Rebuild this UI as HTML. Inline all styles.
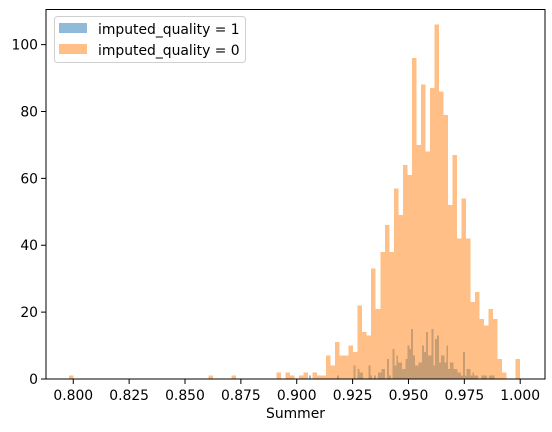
<!DOCTYPE html>
<html><head><meta charset="utf-8"><style>
html,body{margin:0;padding:0;background:#fff;}
svg{display:block;font-family:"DejaVu Sans","Liberation Sans",sans-serif;}
</style></head><body>
<svg id="chart" width="552" height="432" viewBox="0 0 552 432" xmlns="http://www.w3.org/2000/svg">
<g id="bars" shape-rendering="crispEdges"></g>
<g id="axes"></g>
<g>
<rect x="54.5" y="16.5" width="191" height="46" rx="3" fill="#fff" fill-opacity="0.8" stroke="#d0d0d0"/>
<rect x="59" y="23" width="28" height="10" fill="#1f77b4" fill-opacity="0.5"/>
<text x="98" y="34" font-size="13.9" fill="#000">imputed_quality = 1</text>
<rect x="59" y="44" width="28" height="10" fill="#ff7f0e" fill-opacity="0.5"/>
<text x="98" y="55" font-size="13.9" fill="#000">imputed_quality = 0</text>
</g>
<text x="295.5" y="418" font-size="13.9" text-anchor="middle">Summer</text>
</svg>
<script>
const orangeLo = 0.798, orangeHi = 1.0;
const orangeCounts = [1,0,0,0,0,0,0,0,0,0, 0,0,0,0,0,0,0,0,0,0, 0,0,0,0,0,0,0,0,0,0, 0,1,0,0,0,0,1,0,0,0, 0,0,0,0,0,0,2,0,2,1, 0,1,2,0,2,1,1,7,4,11, 7,7,10,8,22,14,13,33,21,38, 46,38,57,49,64,61,96,70,88,68, 87,106,86,79,52,67,42,54,42,23, 26,18,16,21,18,6,2,0,0,6];
const blueLo = 0.9056, blueHi = 0.9885;
const blueCounts = [1,0,0,0,0,0,0,0,0,0, 0,0,0,0,0,1,0,0,0,0, 0,0,0,0,4,0,3,2,2,0, 0,0,4,1,0,1,0,2,2,3, 3,0,6,1,0,9,4,7,5,5, 3,3,6,10,9,15,7,4,4,5, 5,10,8,14,7,7,15,4,12,13, 5,7,7,5,10,3,5,5,3,3, 2,2,1,8,1,3,3,1,2,1, 1,0,0,1,1,1,0,1,1,1];
const xTicks = [0.800,0.825,0.850,0.875,0.900,0.925,0.950,0.975,1.000];
const xTickLabels = ["0.800","0.825","0.850","0.875","0.900","0.925","0.950","0.975","1.000"];
const yTicks = [0,20,40,60,80,100];
const yTickLabels = ["0","20","40","60","80","100"];

const L=46, R=545, T=9.5, B=379;
const xMin=0.7878, xMax=1.0111, yMin=0, yMax=110.5;
const sx = v => L + (v-xMin)/(xMax-xMin)*(R-L);
const sy = v => B - (v-yMin)/(yMax-yMin)*(B-T);
const NS="http://www.w3.org/2000/svg";
const bars=document.getElementById('bars'), axes=document.getElementById('axes');
function drawHist(counts, lo, hi, color, name){
  const w=(hi-lo)/counts.length;
  counts.forEach((c,i)=>{
    if(c<=0) return;
    const r=document.createElementNS(NS,'rect');
    
    
    const x0=sx(lo+i*w), x1=sx(lo+(i+1)*w);
    r.setAttribute('x',x0); r.setAttribute('width',x1-x0);
    r.setAttribute('y',sy(c)); r.setAttribute('height',sy(0)-sy(c));
    r.setAttribute('fill',color); r.setAttribute('fill-opacity','0.5');
    bars.appendChild(r);
  });
}
drawHist(blueCounts, blueLo, blueHi, '#1f77b4', 'blue');
drawHist(orangeCounts, orangeLo, orangeHi, '#ff7f0e', 'orange');

const frame=document.createElementNS(NS,'rect');


frame.setAttribute('x',L); frame.setAttribute('y',T);
frame.setAttribute('width',R-L); frame.setAttribute('height',B-T);
frame.setAttribute('fill','none'); frame.setAttribute('stroke','#000'); frame.setAttribute('stroke-width','1');
axes.appendChild(frame);

xTicks.forEach((v,i)=>{
  const x=sx(v);
  const t=document.createElementNS(NS,'line');
  
  
  t.setAttribute('x1',x); t.setAttribute('x2',x); t.setAttribute('y1',B); t.setAttribute('y2',B+5);
  t.setAttribute('stroke','#000');
  axes.appendChild(t);
  const tx=document.createElementNS(NS,'text');
  
  
  tx.setAttribute('x',x); tx.setAttribute('y',B+21); tx.setAttribute('font-size','13.9'); tx.setAttribute('text-anchor','middle');
  tx.textContent=xTickLabels[i];
  axes.appendChild(tx);
});
yTicks.forEach((v,i)=>{
  const y=sy(v);
  const t=document.createElementNS(NS,'line');
  
  
  t.setAttribute('x1',L-5); t.setAttribute('x2',L); t.setAttribute('y1',y); t.setAttribute('y2',y);
  t.setAttribute('stroke','#000');
  axes.appendChild(t);
  const tx=document.createElementNS(NS,'text');
  
  
  tx.setAttribute('x',L-8); tx.setAttribute('y',y+5); tx.setAttribute('font-size','13.9'); tx.setAttribute('text-anchor','end');
  tx.textContent=yTickLabels[i];
  axes.appendChild(tx);
});
</script>
</body></html>
